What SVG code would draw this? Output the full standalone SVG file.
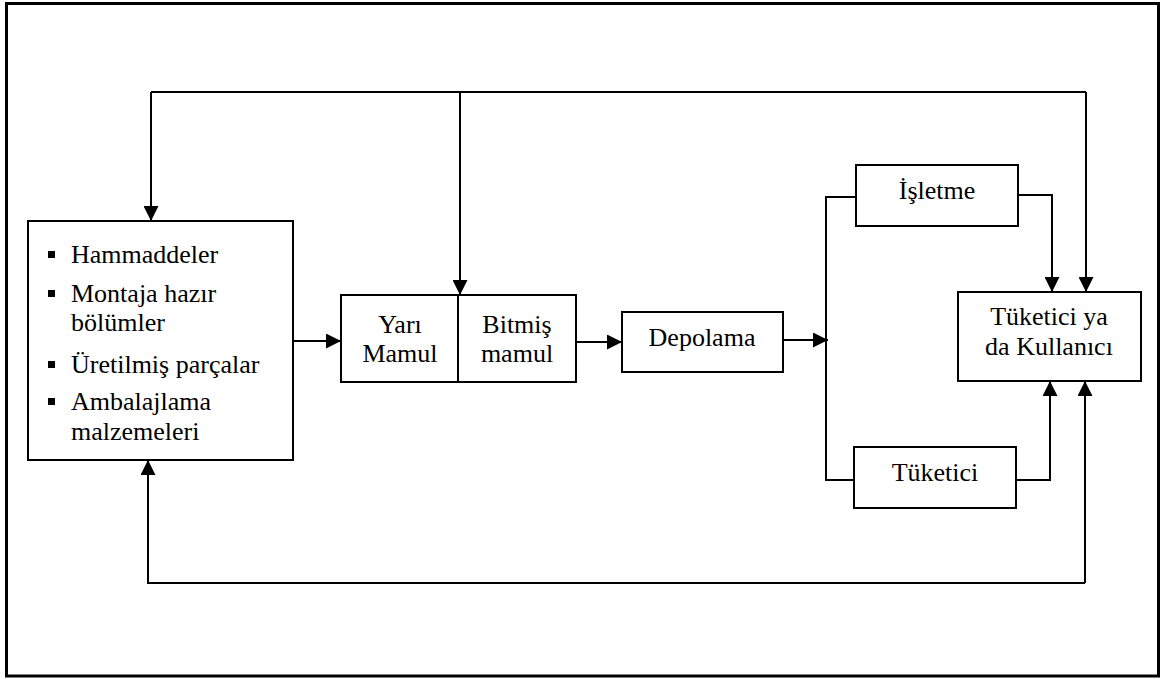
<svg xmlns="http://www.w3.org/2000/svg" width="1161" height="679" viewBox="0 0 1161 679">
  <defs>
    <marker id="arrow" markerUnits="userSpaceOnUse" markerWidth="15" markerHeight="15" viewBox="0 0 15 15" refX="15" refY="7.5" orient="auto">
      <path d="M0,0 L15,7.5 L0,15 Z" fill="#000"/>
    </marker>
    <style>
      .box { fill: #fff; stroke: #000; stroke-width: 2; }
      .wire { fill: none; stroke: #000; stroke-width: 2; }
      .arr { marker-end: url(#arrow); }
      text { font-family: 'Liberation Serif', 'DejaVu Serif', serif; font-size: 26px; fill: #000; }
      .c { text-anchor: middle; }
      .bullet { fill: #000; }
    </style>
  </defs>

  <rect width="1161" height="679" fill="#fff"/>
  <!-- page frame -->
  <rect x="6.5" y="3.5" width="1152" height="672.5" fill="none" stroke="#000" stroke-width="3"/>

  <!-- connectors -->
  <g id="connectors">
    <path class="wire" d="M151,92 H1086"/>
    <path class="wire arr" d="M151,92 V221"/>
    <path class="wire arr" d="M460,92 V295"/>
    <path class="wire arr" d="M1086,92 V292"/>
    <path class="wire arr" d="M293,341 H341"/>
    <path class="wire arr" d="M576,342 H622"/>
    <path class="wire arr" d="M783,340 H828"/>
    <path class="wire" d="M856,197 H826 V480 H854"/>
    <path class="wire arr" d="M1018,195 H1052 V292"/>
    <path class="wire arr" d="M1016,480 H1050 V381"/>
    <path class="wire arr" d="M1085,583 V381"/>
    <path class="wire arr" d="M1085,583 H148 V460"/>
  </g>

  <!-- inputs -->
  <g id="inputs">
    <rect class="box" x="28" y="221" width="265" height="239"/>
    <rect class="bullet" x="48" y="251" width="7" height="7"/>
    <text x="71" y="263">Hammaddeler</text>
    <rect class="bullet" x="48" y="290" width="7" height="7"/>
    <text x="71" y="302">Montaja hazır</text>
    <text x="71" y="331">bölümler</text>
    <rect class="bullet" x="48" y="361" width="7" height="7"/>
    <text x="71" y="373">Üretilmiş parçalar</text>
    <rect class="bullet" x="48" y="398" width="7" height="7"/>
    <text x="71" y="410">Ambalajlama</text>
    <text x="71" y="440">malzemeleri</text>
  </g>

  <!-- semi-finished / finished product -->
  <g id="products">
    <rect class="box" x="341" y="295" width="235" height="87"/>
    <path class="wire" d="M458,295 V382"/>
    <text class="c" x="400" y="333">Yarı</text>
    <text class="c" x="400" y="362">Mamul</text>
    <text class="c" x="517" y="333">Bitmiş</text>
    <text class="c" x="517" y="362">mamul</text>
  </g>

  <!-- storage -->
  <g id="depolama">
    <rect class="box" x="622" y="312" width="161" height="60"/>
    <text class="c" x="702" y="346">Depolama</text>
  </g>

  <!-- business -->
  <g id="isletme">
    <rect class="box" x="856" y="165" width="162" height="61"/>
    <text class="c" x="937" y="199">İşletme</text>
  </g>

  <!-- consumer -->
  <g id="tuketici">
    <rect class="box" x="854" y="447" width="162" height="61"/>
    <text class="c" x="935" y="481">Tüketici</text>
  </g>

  <!-- end user -->
  <g id="kullanici">
    <rect class="box" x="958" y="292" width="183" height="89"/>
    <text class="c" x="1049" y="325">Tüketici ya</text>
    <text class="c" x="1049" y="355">da Kullanıcı</text>
  </g>
</svg>
